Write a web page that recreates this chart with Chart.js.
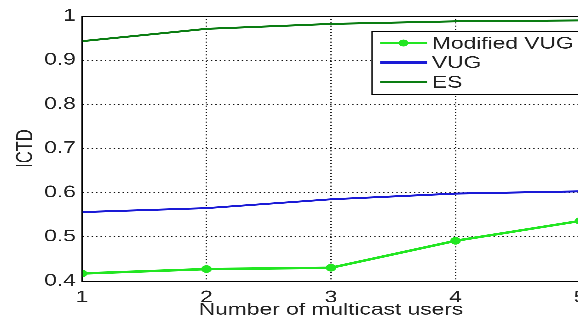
<!DOCTYPE html>
<html>
<head>
<meta charset="utf-8">
<script src="https://cdn.jsdelivr.net/npm/chart.js@4/dist/chart.umd.min.js"></script>
<style>
html,body{margin:0;padding:0;overflow:hidden;background:#fff;width:578px;height:320px;}
#wrap{width:435px;height:320px;position:absolute;left:0;top:0;transform:scaleX(1.38);transform-origin:0 0;}
</style>
</head>
<body>
<div id="wrap"><canvas id="c"></canvas></div>
<script>
const users = [1, 2, 3, 4, 5];
const modifiedVUG = [0.417, 0.427, 0.430, 0.491, 0.536];
const vug = [0.556, 0.565, 0.585, 0.598, 0.603];
const es = [0.943, 0.971, 0.982, 0.988, 0.990];
const yTicks = [0.4, 0.5, 0.6, 0.7, 0.8, 0.9, 1];
const seriesNames = ['Modified VUG', 'VUG', 'ES'];

const FONT = 'Arimo, "Liberation Sans", Arial, sans-serif';
const FSIZE = 16.5;
const toXY = (vals) => vals.map((v, i) => ({x: users[i], y: v}));

const framePlugin = {
  id: 'frame',
  afterDatasetsDraw(chart) {
    const {ctx, chartArea: a} = chart;
    ctx.save();
    ctx.strokeStyle = '#000';
    ctx.lineWidth = 1;
    ctx.strokeRect(a.left, a.top + 0.5, a.right - a.left, a.bottom - a.top);
    ctx.restore();
  }
};

const legendPlugin = {
  id: 'boxLegend',
  afterDraw(chart) {
    const {ctx} = chart;
    const bx = 269.6, by = 31, bw = 170, bh = 63;
    ctx.save();
    ctx.fillStyle = '#fff';
    ctx.fillRect(bx, by, bw, bh);
    ctx.strokeStyle = '#000';
    ctx.lineWidth = 1;
    ctx.strokeRect(bx, by + 0.5, bw, bh);
    ctx.font = FSIZE + 'px ' + FONT;
    ctx.textBaseline = 'middle';
    chart.data.datasets.forEach((ds, i) => {
      const y = by + 12 + i * 19.5;
      ctx.strokeStyle = ds.borderColor;
      ctx.lineWidth = 2.5;
      ctx.beginPath();
      ctx.moveTo(275.4, y);
      ctx.lineTo(309.4, y);
      ctx.stroke();
      if (ds.pointRadius > 0) {
        ctx.fillStyle = ds.borderColor;
        ctx.beginPath();
        ctx.arc(292.4, y, 3.5, 0, Math.PI * 2);
        ctx.fill();
      }
      ctx.fillStyle = '#222';
      ctx.fillText(ds.label, 313, y + 1);
    });
    ctx.restore();
  }
};

new Chart(document.getElementById('c'), {
  type: 'line',
  data: {
    datasets: [
      {label: seriesNames[0], data: toXY(modifiedVUG), borderColor: '#22e622', backgroundColor: '#22e622', borderWidth: 2.5, pointRadius: 3.8, pointBackgroundColor: '#22e622', pointBorderWidth: 0, tension: 0},
      {label: seriesNames[1], data: toXY(vug), borderColor: '#1a1ad6', backgroundColor: '#1a1ad6', borderWidth: 2, pointRadius: 0, tension: 0},
      {label: seriesNames[2], data: toXY(es), borderColor: '#0a7d12', backgroundColor: '#0a7d12', borderWidth: 2, pointRadius: 0, tension: 0}
    ]
  },
  options: {
    responsive: true,
    maintainAspectRatio: false,
    animation: false,
    devicePixelRatio: 3,
    layout: {padding: {left: 9, top: 16, right: 14.7, bottom: 0}},
    plugins: {legend: {display: false}, tooltip: {enabled: false}},
    scales: {
      x: {
        type: 'linear', min: 1, max: 5,
        afterFit(s) { s.height = 39; },
        ticks: {stepSize: 1, color: '#222', font: {family: FONT, size: FSIZE}, padding: 7, maxRotation: 0},
        grid: {color: '#111', lineWidth: 1, drawTicks: false},
        border: {display: true, color: '#000', dash: [1, 2.2]},
        title: {display: true, text: 'Number of multicast users', color: '#222', font: {family: FONT, size: FSIZE}, padding: 0}
      },
      y: {
        min: 0.4, max: 1,
        afterFit(s) { s.width = 50.4; },
        afterBuildTicks(s) { s.ticks = yTicks.map(v => ({value: v})); },
        ticks: {color: '#222', font: {family: FONT, size: FSIZE}, padding: 4.5, callback: v => String(Math.round(v * 10) / 10)},
        grid: {color: '#111', lineWidth: 1, drawTicks: false},
        border: {display: true, color: '#000', dash: [1, 2.2]},
        title: {display: true, text: 'ICTD', color: '#222', font: {family: FONT, size: FSIZE}, padding: 0}
      }
    }
  },
  plugins: [framePlugin, legendPlugin]
});
</script>
</body>
</html>
